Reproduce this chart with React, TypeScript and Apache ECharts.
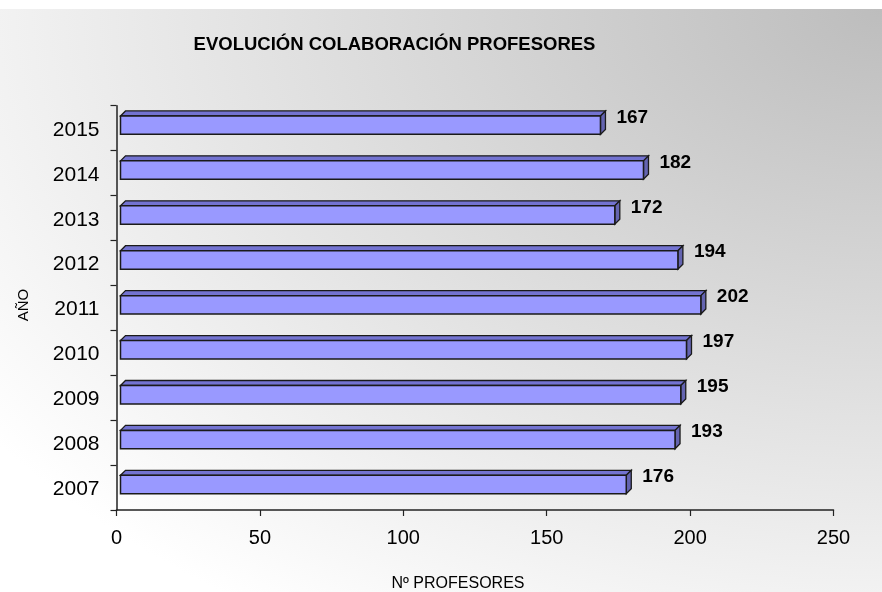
import React, { useEffect, useRef } from "react";
import * as echarts from "echarts";

const years = ["2007", "2008", "2009", "2010", "2011", "2012", "2013", "2014", "2015"];
const profesores = [176, 193, 195, 197, 202, 194, 172, 182, 167];
const xTicks = { min: 0, max: 250, interval: 50 };
const titleText = "EVOLUCIÓN COLABORACIÓN PROFESORES";
const xName = "Nº PROFESORES";
const yName = "AÑO";

const FONT = "'Liberation Sans', Arial, sans-serif";

export default function App() {
  const ref = useRef<HTMLDivElement>(null);
  useEffect(() => {
    if (!ref.current) return;
    const chart = echarts.init(ref.current, null, { renderer: "svg" });
    const data = profesores.map((v, i) => [v, i]);
    chart.setOption({
      animation: false,
      graphic: [
        {
          type: "rect",
          z: -10,
          silent: true,
          shape: { x: 0, y: 9, width: 882, height: 583 },
          style: {
            fill: new echarts.graphic.RadialGradient(1, 0, 1.25, [
              { offset: 0, color: "#bdbdbd" },
              { offset: 1, color: "#ffffff" },
            ]),
          },
        },
        {
          type: "text",
          x: 394.5,
          y: 43,
          style: {
            text: titleText,
            align: "center",
            verticalAlign: "middle",
            fill: "#000",
            font: `bold 18.5px ${FONT}`,
          },
        },
        {
          type: "text",
          x: 458,
          y: 582,
          style: {
            text: xName,
            align: "center",
            verticalAlign: "middle",
            fill: "#000",
            font: `16px ${FONT}`,
          },
        },
        {
          type: "text",
          x: 22,
          y: 305,
          rotation: Math.PI / 2,
          style: {
            text: yName,
            align: "center",
            verticalAlign: "middle",
            fill: "#000",
            font: `15px ${FONT}`,
          },
        },
      ],
      grid: { left: 116.5, right: 48.5, top: 105.7, bottom: 82 },
      xAxis: {
        type: "value",
        min: xTicks.min,
        max: xTicks.max,
        interval: xTicks.interval,
        splitLine: { show: false },
        axisLine: { show: true, lineStyle: { color: "#222", width: 1.5 } },
        axisTick: { show: true, length: 6, lineStyle: { color: "#222", width: 1.2 } },
        axisLabel: { color: "#000", fontSize: 20, fontFamily: FONT, margin: 17 },
      },
      yAxis: {
        type: "category",
        data: years,
        axisLine: { show: true, lineStyle: { color: "#222", width: 1.5 } },
        axisTick: { show: true, length: 6, lineStyle: { color: "#222", width: 1.2 } },
        axisLabel: { color: "#000", fontSize: 21, fontFamily: FONT, margin: 17 },
      },
      series: [
        {
          type: "custom",
          data,
          encode: { x: 0, y: 1 },
          renderItem: (params: any, api: any) => {
            const v = api.value(0);
            const idx = api.value(1);
            const p0 = api.coord([0, idx]);
            const p1 = api.coord([v, idx]);
            const band = api.size([0, 1])[1];
            const h = band * 0.41;
            const d = 5;
            const cy = p0[1] - 3;
            const x0 = p0[0] + 4;
            const x1 = p1[0] + 5;
            const yt = cy - h / 2;
            const yb = cy + h / 2;
            const stroke = "#1a1a1a";
            return {
              type: "group",
              children: [
                {
                  type: "polygon",
                  shape: { points: [[x0, yt], [x0 + d, yt - d], [x1 + d, yt - d], [x1, yt]] },
                  style: { fill: "#7373d1", stroke, lineWidth: 1.3 },
                },
                {
                  type: "polygon",
                  shape: { points: [[x1, yt], [x1 + d, yt - d], [x1 + d, yb - d], [x1, yb]] },
                  style: { fill: "#6464b0", stroke, lineWidth: 1.3 },
                },
                {
                  type: "rect",
                  shape: { x: x0, y: yt, width: x1 - x0, height: h },
                  style: { fill: "#9999ff", stroke, lineWidth: 1.5 },
                },
                {
                  type: "text",
                  x: x1 + d + 11,
                  y: cy - 9,
                  style: {
                    text: String(v),
                    align: "left",
                    verticalAlign: "middle",
                    fill: "#000",
                    font: `bold 19px ${FONT}`,
                  },
                },
              ],
            };
          },
        },
      ],
    });
    return () => chart.dispose();
  }, []);
  return (
    <div
      ref={ref}
      style={{ position: "fixed", left: 0, top: 0, width: 882, height: 592 }}
    />
  );
}
